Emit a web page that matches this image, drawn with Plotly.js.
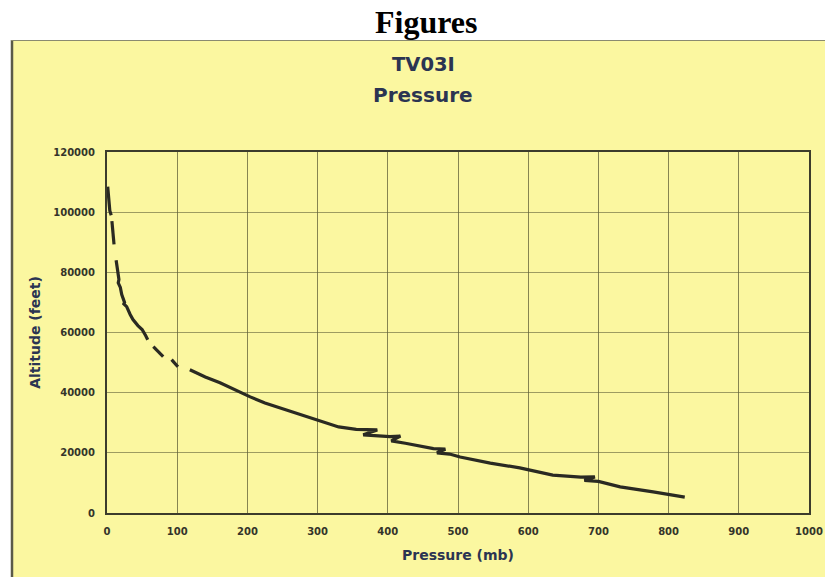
<!DOCTYPE html>
<html>
<head>
<meta charset="utf-8">
<script src="https://cdn.plot.ly/plotly-3.0.1.min.js"></script>
<style>html,body{margin:0;padding:0;background:#fff;}#chart{width:825px;height:577px;}</style>
</head>
<body>
<div id="chart"></div>
<script>
// Pressure (mb) vs altitude (feet); null marks gaps in the traced curve
const pressure = [1, 2, 4, 6, null, 7, 8, 9, 10, null, 13, 15, 17, 16, 19, 21, 25, 24, 28, 33, 37, 44, 50, 55, 58, null, 66, 73, 80, null, 92, 101, null,
  118, 140, 161, 183, 204, 225, 246, 268, 289, 310, 330, 355, 385, 365, 395, 403, 418, 405, 425, 450, 465, 482, 470, 488, 503, 546, 588, 635, 675, 695, 680, 700, 731, 778, 823];
const altitude = [108500, 104500, 100500, 99000, null, 97000, 94500, 91500, 89300, null, 84000, 80000, 77600, 76500, 75000, 72600, 70000, 69500, 68600, 66000, 64300, 62300, 61000, 59000, 57600, null, 55300, 53500, 52000, null, 51000, 48600, null,
  47600, 45200, 43300, 40800, 38600, 36600, 35000, 33100, 31600, 30100, 28600, 27800, 27600, 26000, 25600, 25400, 25600, 24000, 23200, 22000, 21400, 21200, 20000, 19600, 18600, 16600, 15000, 12600, 11900, 12000, 10800, 10500, 8700, 7000, 5300];
const xTicks = [0, 100, 200, 300, 400, 500, 600, 700, 800, 900, 1000];
const yTicks = [0, 20000, 40000, 60000, 80000, 100000, 120000];

const plotL = 107, plotR = 809, plotT = 152, plotB = 513, W = 825, H = 577;
const pw = plotR - plotL, ph = plotB - plotT;
const px = v => (v - plotL) / pw;
const py = v => (plotB - v) / ph;

const trace = {
  x: pressure, y: altitude, type: 'scatter', mode: 'lines',
  connectgaps: false,
  line: {color: '#2a2a22', width: 3.2},
  hoverinfo: 'x+y'
};

const sans = 'DejaVu Sans, Verdana, sans-serif';
const tickFont = {family: sans, size: 10, color: '#34342a', weight: 'bold'};
const navy = '#2b3452';

const layout = {
  width: W, height: H,
  margin: {l: plotL, r: W - plotR, t: plotT, b: H - plotB, pad: 0},
  paper_bgcolor: '#ffffff',
  plot_bgcolor: 'rgba(0,0,0,0)',
  showlegend: false,
  xaxis: {
    range: [0, 1000], tickvals: xTicks, ticktext: xTicks.map(String),
    showgrid: true, gridcolor: 'rgba(95,95,55,0.75)', gridwidth: 1,
    showline: true, linecolor: '#3c3c2c', linewidth: 2, mirror: true,
    zeroline: false, ticks: '', tickfont: tickFont, ticklabelstandoff: 8,
    title: {text: 'Pressure (mb)', font: {family: sans, size: 14, color: navy, weight: 'bold'}, standoff: 14}
  },
  yaxis: {
    range: [0, 120000], tickvals: yTicks, ticktext: yTicks.map(String),
    showgrid: true, gridcolor: 'rgba(95,95,55,0.6)', gridwidth: 1,
    showline: true, linecolor: '#3c3c2c', linewidth: 2, mirror: true,
    zeroline: false, ticks: '', tickfont: tickFont, ticklabelstandoff: 8,
    title: {text: 'Altitude (feet)', font: {family: sans, size: 14, color: navy, weight: 'bold'}, standoff: 9}
  },
  shapes: [
    {type: 'rect', xref: 'paper', yref: 'paper', layer: 'below',
     x0: px(11), x1: px(825), y0: py(577), y1: py(40),
     fillcolor: '#fbf7a0', line: {width: 0}},
    {type: 'line', xref: 'paper', yref: 'paper', layer: 'below',
     x0: px(12), x1: px(12), y0: py(577), y1: py(40), line: {color: '#5a5a48', width: 2.5}},
    {type: 'line', xref: 'paper', yref: 'paper', layer: 'below',
     x0: px(11), x1: px(825), y0: py(40.5), y1: py(40.5), line: {color: '#8a8a70', width: 1.2}}
  ],
  annotations: [
    {text: '<b>Figures</b>', xref: 'paper', yref: 'paper', x: px(426), y: py(22), xanchor: 'center', yanchor: 'middle',
     showarrow: false, font: {family: 'Liberation Serif, Times New Roman, serif', size: 32, color: '#000'}},
    {text: '<b>TV03I</b>', xref: 'paper', yref: 'paper', x: px(423), y: py(64), xanchor: 'center', yanchor: 'middle',
     showarrow: false, font: {family: sans, size: 19.5, color: navy}},
    {text: '<b>Pressure</b>', xref: 'paper', yref: 'paper', x: px(423), y: py(95), xanchor: 'center', yanchor: 'middle',
     showarrow: false, font: {family: sans, size: 20, color: navy}}
  ]
};

Plotly.newPlot('chart', [trace], layout, {displayModeBar: false, staticPlot: true});
</script>
</body>
</html>
